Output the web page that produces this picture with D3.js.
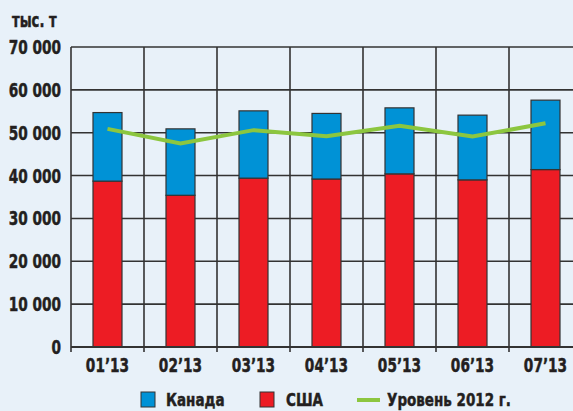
<!DOCTYPE html>
<html><head><meta charset="utf-8">
<script src="https://cdn.jsdelivr.net/npm/d3@7"></script>
<style>
html,body{margin:0;padding:0;background:#e8f1f9;}
svg{display:block;}
text{font-family:"DejaVu Sans",sans-serif;font-weight:bold;fill:#231f20;stroke:#231f20;stroke-width:0.5;}
</style></head>
<body><svg id="c" width="573" height="411"></svg>
<script>
const categories = ["01’13","02’13","03’13","04’13","05’13","06’13","07’13"];
const usa = [38700, 35400, 39400, 39200, 40400, 39000, 41400];
const total = [54700, 50900, 55100, 54500, 55800, 54100, 57600];
const canada = total.map((t,i)=>t-usa[i]);
const level2012 = [50900, 47500, 50600, 49200, 51600, 49100, 52200];
const yTicks = [0,10000,20000,30000,40000,50000,60000,70000];
const yTickLabels = ["0","10 000","20 000","30 000","40 000","50 000","60 000","70 000"];
const legendLabels = ["Канада","США","Уровень 2012 г."];

const colBlue="#0092d6", colRed="#ed1c24", colGreen="#8cc63f", colGrid="#333333";
const svg=d3.select("#c");
const L=71, R=582, T=47, B=347;
const x=d3.scaleBand().domain(categories).range([L,R]).paddingInner(0).paddingOuter(0);
const y=d3.scaleLinear().domain([0,70000]).range([B,T]);
const bw=29;

function label(px,py,str,size,anchor,sx){
  return svg.append("text").attr("transform",`translate(${px},${py}) scale(${sx||0.72},1)`)
    .attr("text-anchor",anchor||"start").attr("font-size",size).text(str);
}

// grid
const g=svg.append("g");
yTicks.forEach(v=>{
  g.append("line").attr("x1",L).attr("x2",R).attr("y1",y(v)).attr("y2",y(v))
   .attr("stroke",colGrid).attr("stroke-width",v===0?2:1.6);
});
categories.forEach((c,i)=>{
  const xx=x(c);
  g.append("line").attr("x1",xx).attr("x2",xx).attr("y1",T).attr("y2",B+5)
   .attr("stroke",colGrid).attr("stroke-width",1.6);
});
g.append("line").attr("x1",R).attr("x2",R).attr("y1",T).attr("y2",B+5).attr("stroke",colGrid).attr("stroke-width",1.6);

// bars
const bars=svg.append("g");
categories.forEach((c,i)=>{
  const cx=x(c)+x.bandwidth()/2;
  bars.append("rect").attr("x",cx-bw/2).attr("width",bw)
    .attr("y",y(usa[i])).attr("height",y(0)-y(usa[i]))
    .attr("fill",colRed).attr("stroke",colGrid).attr("stroke-width",1.2);
  bars.append("rect").attr("x",cx-bw/2).attr("width",bw)
    .attr("y",y(usa[i]+canada[i])).attr("height",y(usa[i])-y(usa[i]+canada[i]))
    .attr("fill",colBlue).attr("stroke",colGrid).attr("stroke-width",1.2);
});
svg.append("line").attr("x1",L).attr("x2",R).attr("y1",B).attr("y2",B).attr("stroke",colGrid).attr("stroke-width",2);

// line
const line=d3.line().x((d,i)=>x(categories[i])+x.bandwidth()/2).y(d=>y(d));
svg.append("path").datum(level2012).attr("d",line).attr("fill","none")
  .attr("stroke",colGreen).attr("stroke-width",4).attr("stroke-linejoin","miter");

// y labels
yTicks.forEach((v,i)=>{ label(61, y(v)+7, yTickLabels[i], 19, "end"); });
label(12, 27, "тыс. т", 20, "start", 0.66);

// x labels
categories.forEach(c=>{ label(x(c)+x.bandwidth()/2, 372, c, 19, "middle"); });

// legend
const lg=svg.append("g");
lg.append("rect").attr("x",141).attr("y",392).attr("width",14).attr("height",15).attr("fill",colBlue).attr("stroke",colGrid).attr("stroke-width",1);
label(166, 406, legendLabels[0], 18, "start", 0.75);
lg.append("rect").attr("x",260).attr("y",392).attr("width",14).attr("height",15).attr("fill",colRed).attr("stroke",colGrid).attr("stroke-width",1);
label(286, 406, legendLabels[1], 18, "start", 0.75);
lg.append("line").attr("x1",357).attr("x2",380).attr("y1",400).attr("y2",400).attr("stroke",colGreen).attr("stroke-width",4);
label(387, 406, legendLabels[2], 18, "start", 0.75);
</script></body></html>
